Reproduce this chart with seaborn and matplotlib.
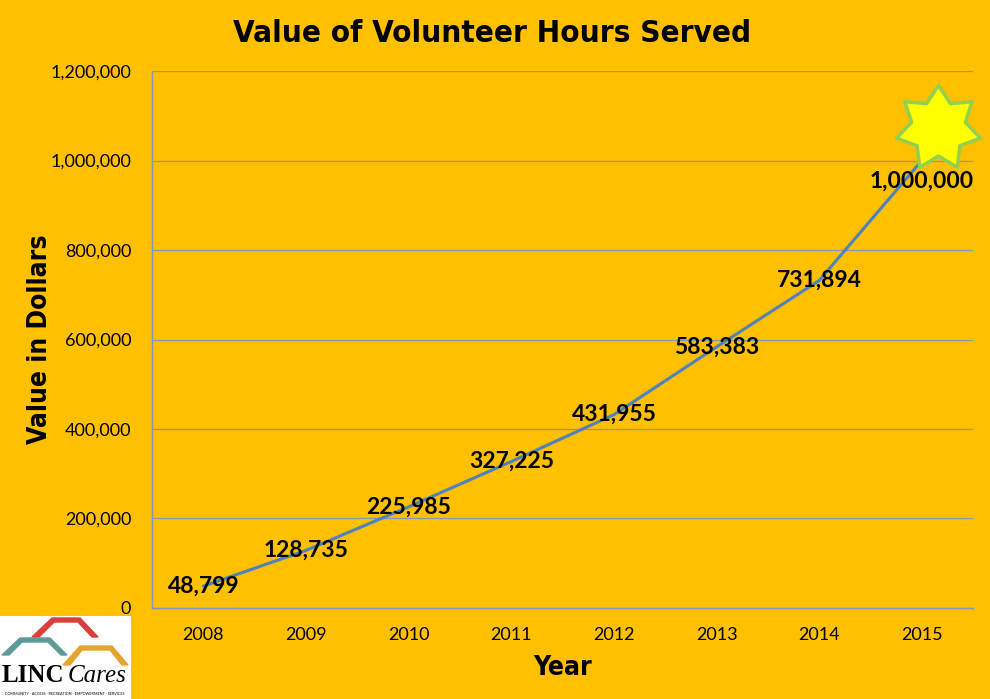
import numpy as np
import matplotlib
matplotlib.use("Agg")
import matplotlib.pyplot as plt
import matplotlib.patches as mpatches
from matplotlib.path import Path
from matplotlib import transforms
import seaborn as sns

years = ["2008", "2009", "2010", "2011", "2012", "2013", "2014", "2015"]
values = [48799, 128735, 225985, 327225, 431955, 583383, 731894, 1000000]
value_labels = ["48,799", "128,735", "225,985", "327,225", "431,955",
                "583,383", "731,894", "1,000,000"]
y_ticks = [0, 200000, 400000, 600000, 800000, 1000000, 1200000]

bg = "#FFC000"
sns.set_theme(style="white")
plt.rcParams['font.family'] = ['Lato', 'DejaVu Sans']
plt.rcParams['text.color'] = 'black'
plt.rcParams['axes.labelcolor'] = 'black'
plt.rcParams['xtick.color'] = 'black'
plt.rcParams['ytick.color'] = 'black'

fig = plt.figure(figsize=(9.9, 6.99), dpi=100, facecolor=bg)
ax = fig.add_axes([0.1535, 0.1302, 0.8295, 0.7682])
ax.set_facecolor(bg)

pos = np.arange(len(years))
sns.lineplot(x=pos, y=values, ax=ax, color="#4F81BD", linewidth=2.2)

# 7-point star near the last point (shifted up/right like the original shape)
n = 7
ang = np.linspace(0, 2 * np.pi, 2 * n, endpoint=False) + np.pi / 2
rad = np.where(np.arange(2 * n) % 2 == 0, 1.0, 0.64)
verts = np.column_stack([rad * np.cos(ang), rad * np.sin(ang)])
verts = np.vstack([verts, verts[:1]])
star = Path(verts, [Path.MOVETO] + [Path.LINETO] * (2 * n - 1) + [Path.CLOSEPOLY])
star_tr = transforms.offset_copy(ax.transData, fig=fig, x=16, y=33, units='dots')
ax.plot([pos[-1]], [values[-1]], marker=star, markersize=62, color="#FFFF00",
        markeredgecolor="#92D050", markeredgewidth=2.5, transform=star_tr,
        clip_on=False, zorder=5)

# data labels
for i, (v, lab) in enumerate(zip(values, value_labels)):
    dy = -15 if i == len(values) - 1 else 0
    ax.annotate(lab, (pos[i], v), xytext=(0, dy), textcoords="offset points",
                ha="center", va="center", fontsize=16.5, fontweight="bold",
                color="black", zorder=6)

ax.set_xlim(-0.5, len(years) - 0.5)
ax.set_ylim(0, 1200000)
ax.set_yticks(y_ticks)
ax.set_yticklabels([f"{t:,}" for t in y_ticks], fontsize=13)
ax.set_xticks(pos)
ax.set_xticklabels(years, fontsize=13)
ax.set_xticks(np.arange(-0.5, len(years)), minor=True)
ax.tick_params(axis="x", which="major", length=0, pad=14)
ax.tick_params(axis="x", which="minor", length=6, color="#8497B0", width=1, direction="out")
ax.tick_params(axis="y", which="major", length=6, color="#8497B0", width=1,
               direction="out", pad=9)
ax.grid(axis="y", color="#8497B0", linewidth=0.9)
ax.set_axisbelow(True)
for s in ["top", "right"]:
    ax.spines[s].set_visible(False)
for s in ["left", "bottom"]:
    ax.spines[s].set_color("#8497B0")
    ax.spines[s].set_linewidth(1)

deco = dict(family=["DejaVu Sans"], fontweight="heavy", fontstretch="condensed")
ax.set_ylabel("Value in Dollars", fontsize=19, labelpad=-2, **deco)
ax.set_xlabel("Year", fontsize=19, labelpad=8, **deco)
fig.text(0.497, 0.952, "Value of Volunteer Hours Served", ha="center", va="center",
         fontsize=22.5, **deco)

# LINC Cares logo, bottom left
lax = fig.add_axes([0, 0, 131 / 990, 83 / 699])
lax.set_xlim(0, 131)
lax.set_ylim(0, 83)
lax.axis("off")
lax.add_patch(mpatches.Rectangle((0, 0), 131, 83, color="white"))
lax.add_patch(mpatches.Polygon([[32, 62], [52, 81], [80, 81], [98, 62], [92, 62], [78, 77], [54, 77], [39, 62]],
                               color="#D9403A"))
lax.add_patch(mpatches.Polygon([[2, 44], [20, 61], [50, 61], [67, 44], [61, 44], [48, 57], [22, 57], [9, 44]],
                               color="#5E9A96"))
lax.add_patch(mpatches.Polygon([[63, 34], [80, 53], [112, 53], [128, 34], [122, 34], [110, 49], [82, 49], [70, 34]],
                               color="#E5A330"))
lax.text(2, 23, "LINC", fontsize=18, fontweight="bold", family=["Liberation Serif"],
         color="black", va="center", ha="left")
lax.text(68, 23, "Cares", fontsize=18, style="italic", family=["Liberation Serif"],
         color="black", va="center", ha="left")
lax.text(65, 5, "COMMUNITY · ACCESS · RECREATION · EMPOWERMENT · SERVICES", fontsize=2.7,
         color="black", va="center", ha="center")

fig.savefig("out.png", dpi=100, facecolor=bg)
